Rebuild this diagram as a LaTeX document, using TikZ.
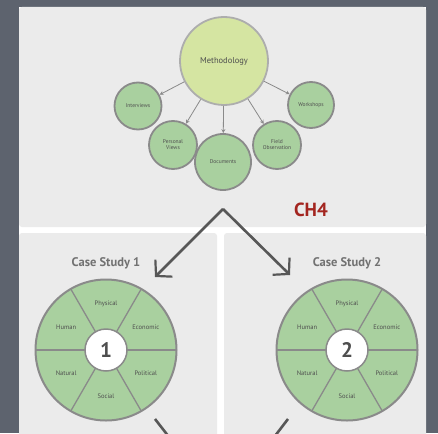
\documentclass[tikz,border=0pt]{standalone}
\usepackage{fontspec}
\setmainfont{PT Sans}
\usepackage{xcolor}
\usetikzlibrary{arrows.meta,calc,positioning}

\definecolor{slate}{HTML}{5D636E}
\definecolor{panel}{HTML}{EBEBEB}
\definecolor{leaf}{HTML}{A9D09F}
\definecolor{lime}{HTML}{D5E5A2}
\definecolor{rim}{HTML}{8A8A8A}
\definecolor{ink}{HTML}{4E4E4E}
\definecolor{chapter}{HTML}{A3251F}

\tikzset{
    method/.style={circle, fill=leaf, draw=rim, line width=1.8pt, inner sep=0pt,
        align=center, text=ink, font=\fontsize{5.5}{6}\selectfont},
    feed/.style={draw=rim, line width=0.8pt, -{Stealth[length=4pt,width=4pt]}},
    sector/.style={text=ink, font=\fontsize{6.5}{7}\selectfont},
    casetitle/.style={text=ink!80, font=\bfseries\fontsize{12.5}{14}\selectfont},
    branch/.style={draw=ink!95, line width=2.6pt,
        -{Straight Barb[length=11pt,width=24pt,line width=2.2pt]}}
}

\begin{document}
\begin{tikzpicture}[x=1pt,y=-1pt]
    \useasboundingbox (0,0) rectangle (438,433);
    % frame and panels
    \fill[slate] (0,0) rectangle (438,433);
    \fill[white] (19,7) rectangle (426,433);
    \fill[panel, rounded corners=3pt] (19,7) rectangle (426,227);
    \fill[panel, rounded corners=3pt] (19,233) rectangle (217,440);
    \fill[panel, rounded corners=3pt] (224,233) rectangle (426,440);

    % methodology
    \node[circle, fill=lime, draw=rim!70, line width=1.8pt, minimum size=88pt,
        text=ink, font=\fontsize{8.5}{9}\selectfont] (meth) at (224,61) {Methodology};
    \node[method, minimum size=47pt] (interviews) at (138,106) {Interviews};
    \node[method, minimum size=48pt] (views) at (173,145) {Personal\\Views};
    \node[method, minimum size=56pt] (documents) at (223,162) {Documents};
    \node[method, minimum size=48pt] (observation) at (277,145) {Field\\Observation};
    \node[method, minimum size=46pt] (workshops) at (311,105) {Workshops};
    \foreach \m in {interviews,views,documents,observation,workshops}
        \draw[feed] (meth) -- (\m);

    \node[text=chapter, font=\bfseries\fontsize{19}{20}\selectfont] (ch) at (311,210) {CH4};

    % case studies
    \foreach \i/\cx in {1/106,2/347} {
        \node[casetitle] (title\i) at (\cx,263) {Case Study \i};
        \node[circle, fill=leaf, draw=rim, line width=2pt, minimum size=141pt] (wheel\i) at (\cx,350) {};
        \foreach \a in {0,60,...,300}
            \draw[rim, line width=1.3pt] ($(wheel\i)+(\a:21)$) -- ($(wheel\i)+(\a:70)$);
        \node[circle, fill=white, draw=rim, line width=1.5pt, minimum size=42pt,
            text=ink, font=\bfseries\fontsize{21}{22}\selectfont] (hub\i) at (wheel\i) {\i};
        \foreach \a/\t in {-90/Physical,-30/Economic,30/Political,90/Social,150/Natural,210/Human}
            \node[sector] at ($(wheel\i)+(\a:46)$) {\t};
    }

    \coordinate (apex) at (223,209);
    \coordinate (tip1) at (155,277);
    \coordinate (tip2) at (290,275);
    \draw[branch] (apex) -- (tip1);
    \draw[branch] (apex) -- (tip2);

    \begin{scope}
        \clip (0,0) rectangle (438,433);
        \coordinate (low1) at (155,419);
        \coordinate (low2) at (288,419);
        \coordinate (meet) at (222,505);
        \draw[draw=ink!95, line width=2.6pt] (low1) -- (meet);
        \draw[draw=ink!95, line width=2.6pt] (low2) -- (meet);
    \end{scope}
\end{tikzpicture}
\end{document}
